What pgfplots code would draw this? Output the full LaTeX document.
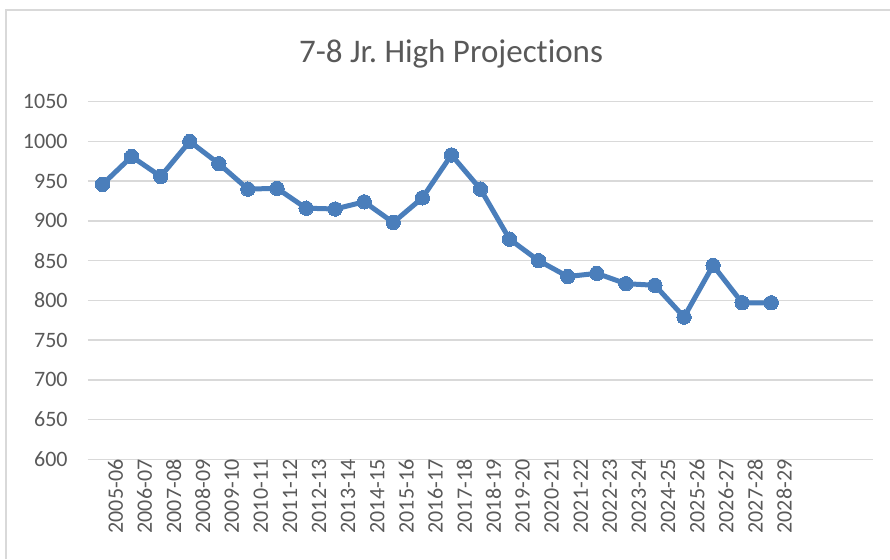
\documentclass[border=0pt]{standalone}
\usepackage{pgfplots}
\pgfplotsset{compat=1.18}
\usepackage{fontspec}
\setmainfont{Carlito}[Ligatures=NoCommon]
\definecolor{lineblue}{HTML}{4A7EBB}
\definecolor{gridgray}{HTML}{D9D9D9}
\definecolor{txtgray}{HTML}{595959}
\begin{document}
\begin{tikzpicture}
\useasboundingbox (0,0) rectangle (445pt,279.5pt);
\draw[gridgray, line width=0.9pt] (3pt,0) -- (3pt,274.5pt) -- (445pt,274.5pt);
\node[anchor=base, text=txtgray, font=\fontsize{16.5}{19}\selectfont, inner sep=0pt] at (225.5pt,248.5pt) {7-8 Jr.\ High Projections};
\begin{axis}[
  at={(44pt,49.85pt)}, anchor=south west,
  scale only axis, width=392.5pt, height=178.8pt,
  xmin=-0.5, xmax=26.5, ymin=600, ymax=1050,
  ytick={600,650,...,1050},
  xtick={0,...,23},
  xticklabels={2005-06,2006-07,2007-08,2008-09,2009-10,2010-11,2011-12,2012-13,2013-14,2014-15,2015-16,2016-17,2017-18,2018-19,2019-20,2020-21,2021-22,2022-23,2023-24,2024-25,2025-26,2026-27,2027-28,2028-29},
  axis line style={draw=none},
  major tick length=0pt,
  ymajorgrids, grid style={gridgray, line width=0.75pt},
  /pgf/number format/assume math mode=true,
  /pgf/number format/1000 sep={},
  ticklabel style={font=\fontsize{11}{13}\selectfont, text=txtgray, inner sep=0pt},
  yticklabel style={anchor=east, xshift=-10pt},
  xticklabel style={rotate=90, anchor=east, yshift=-6.5pt},
  clip=false,
]
\addplot[lineblue, line width=2.5pt, line join=round, mark=*, mark size=3.6pt, mark options={fill=lineblue, draw=lineblue, line width=0pt}]
coordinates {
(0,946) (1,981) (2,956) (3,1000) (4,972) (5,940) (6,941) (7,916) (8,915) (9,924) (10,898) (11,929)
(12,983) (13,940) (14,877) (15,850) (16,830) (17,834) (18,821) (19,819) (20,779) (21,844) (22,797) (23,797)
};
\end{axis}
\end{tikzpicture}
\end{document}
